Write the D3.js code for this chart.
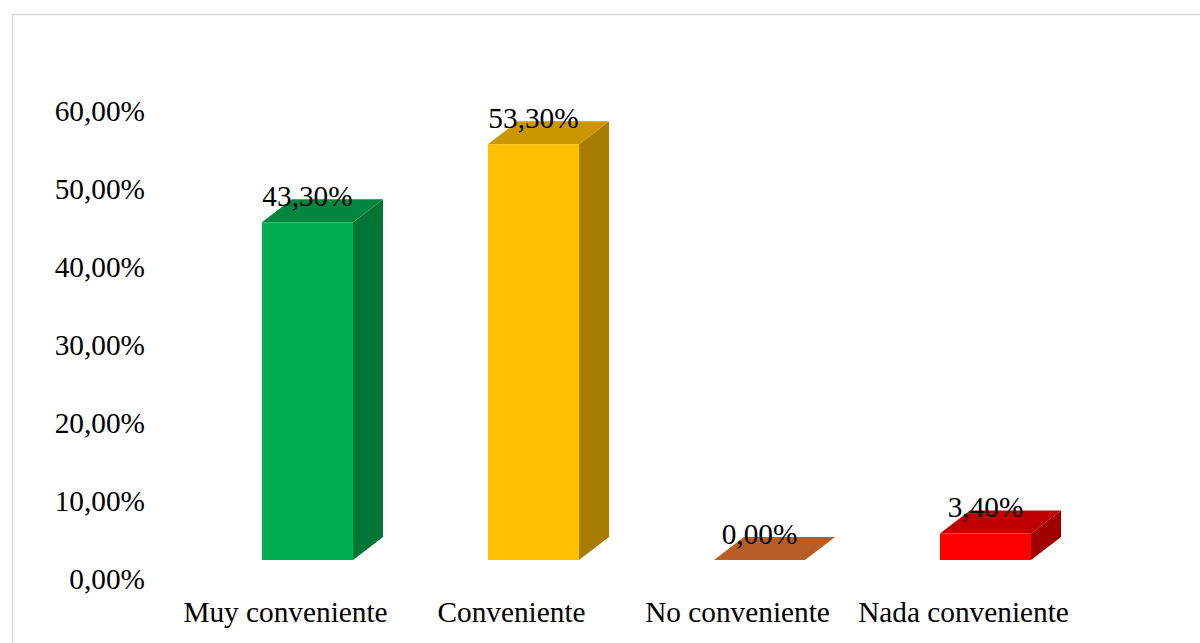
<!DOCTYPE html>
<html>
<head>
<meta charset="utf-8">
<script src="https://cdn.jsdelivr.net/npm/d3@7"></script>
<style>
  html, body { margin: 0; padding: 0; background: #fff; }
  svg text { font-family: "Liberation Serif", "Times New Roman", serif; fill: #000; }
</style>
</head>
<body>
<svg id="chart" width="1200" height="643"></svg>
<script>
// ----------- Data ------------
const categories = ["Muy conveniente", "Conveniente", "No conveniente", "Nada conveniente"];
const values = [43.3, 53.3, 0.0, 3.4];
const valueLabels = ["43,30%", "53,30%", "0,00%", "3,40%"];
const yTicks = [0, 10, 20, 30, 40, 50, 60];
const yTickLabels = ["0,00%", "10,00%", "20,00%", "30,00%", "40,00%", "50,00%", "60,00%"];
const frontColors = ["#00B050", "#FFC000", "#ED7D31", "#FF0000"];
const topColors = ["#00873D", "#C99700", "#B65E25", "#C00000"];
const sideColors = ["#007535", "#A67D00", "#9A4F1F", "#A00000"];

// ----------- Layout ------------
const depthX = 30, depthY = -23;   // 3D offset of back faces
const fontSize = 29.3;

const svg = d3.select("#chart");

// outer frame
svg.append("rect")
  .attr("x", 12.5).attr("y", 14.5)
  .attr("width", 1400).attr("height", 800)
  .attr("fill", "#fff")
  .attr("stroke", "#d9d9d9")
  .attr("stroke-width", 1.5);

const x = d3.scaleBand()
  .domain(categories)
  .range([194.5, 1098.5])
  .paddingInner(0.597)
  .paddingOuter(0.2985);

const y = d3.scaleLinear()
  .domain([0, 60])
  .range([560, 92]);

// ----------- Y axis labels ------------
svg.selectAll(".ytick")
  .data(yTicks)
  .enter()
  .append("text")
  .attr("class", "ytick")
  .attr("x", 145)
  .attr("y", d => y(d) + 29)
  .attr("text-anchor", "end")
  .style("font-size", fontSize + "px")
  .text((d, i) => yTickLabels[i]);

// ----------- Bars (3D) ------------
const bars = svg.selectAll(".bar")
  .data(values)
  .enter()
  .append("g")
  .attr("class", "bar");

const bw = x.bandwidth();

// side face
bars.append("path")
  .attr("fill", (d, i) => sideColors[i])
  .attr("d", (d, i) => {
    const x1 = x(categories[i]) + bw, yt = y(d), yb = y(0);
    return `M${x1},${yb} L${x1 + depthX},${yb + depthY} L${x1 + depthX},${yt + depthY} L${x1},${yt} Z`;
  })
  .attr("display", d => d > 0 ? null : "none");

// top face
bars.append("path")
  .attr("fill", (d, i) => topColors[i])
  .attr("d", (d, i) => {
    const x0 = x(categories[i]), yt = y(d);
    return `M${x0},${yt} L${x0 + bw},${yt} L${x0 + bw + depthX},${yt + depthY} L${x0 + depthX},${yt + depthY} Z`;
  });

// front face
bars.append("rect")
  .attr("fill", (d, i) => frontColors[i])
  .attr("x", (d, i) => x(categories[i]))
  .attr("y", d => y(d))
  .attr("width", bw)
  .attr("height", d => y(0) - y(d));

// value labels
bars.append("text")
  .attr("x", (d, i) => x(categories[i]) + bw / 2)
  .attr("y", d => y(d) + depthY + 7)
  .attr("text-anchor", "middle")
  .style("font-size", fontSize + "px")
  .text((d, i) => valueLabels[i]);

// ----------- Category labels ------------
svg.selectAll(".xlabel")
  .data(categories)
  .enter()
  .append("text")
  .attr("class", "xlabel")
  .attr("x", d => x(d) + bw / 2 - 22)
  .attr("y", 622)
  .attr("text-anchor", "middle")
  .style("font-size", fontSize + "px")
  .text(d => d);
</script>
</body>
</html>
